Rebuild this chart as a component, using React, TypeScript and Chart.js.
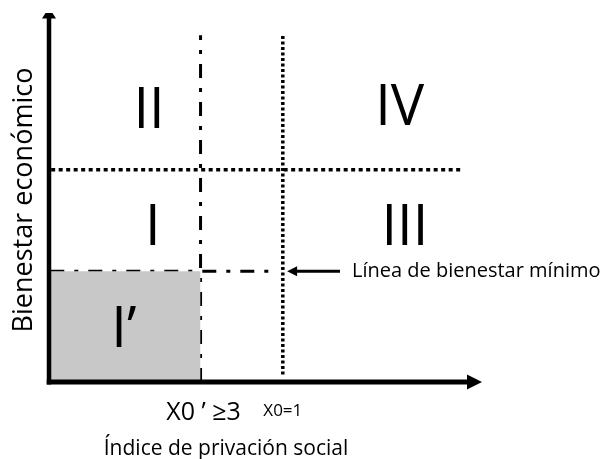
import { useEffect, useRef } from "react";
import { Chart, registerables } from "chart.js";

Chart.register(...registerables);

// Quadrant labels and their centres (data units, 0-100 on both axes)
const quadrantLabels = ["II", "IV", "I", "III", "I’"];
const quadrantX = [23.1, 81, 24, 82.2, 17.3];
const quadrantY = [74.3, 75.1, 42.5, 42.5, 14.9];

// Thresholds
const xThresholdLabels = ["X0 ’ ≥3", "X0=1"];
const xThresholds = [35, 54]; // X0' (dash-dot) and X0 (dotted)
const yThresholdUpper = 57.5; // dotted horizontal
const yMinWelfare = 30; // dash-dot horizontal (línea de bienestar mínimo)
const lineTop = 94;
const upperLineEnd = 95;
const minLineEnd = 51;
const arrowFrom = 67.2;
const arrowTo = 55;

const xTitle = "Índice de privación social";
const yTitle = "Bienestar económico";
const minLineLabel = "Línea de bienestar mínimo";

const FONT = "'Open Sans', 'DejaVu Sans', sans-serif";

export default function App() {
  const ref = useRef<HTMLCanvasElement | null>(null);

  useEffect(() => {
    if (!ref.current) return;
    document.body.style.margin = "0";

    const overlay = {
      id: "overlay",
      afterDatasetsDraw(chart: any) {
        const { ctx, chartArea } = chart;
        const xs = chart.scales.x;
        const ys = chart.scales.y;
        const px = (v: number) => xs.getPixelForValue(v);
        const py = (v: number) => ys.getPixelForValue(v);
        ctx.save();
        ctx.fillStyle = "#000";
        ctx.strokeStyle = "#000";
        ctx.setLineDash([]);

        // y axis
        const ax = chartArea.left;
        const ay = chartArea.bottom;
        ctx.lineWidth = 4.5;
        ctx.beginPath();
        ctx.moveTo(ax, ay + 2.5);
        ctx.lineTo(ax, chartArea.top + 5);
        ctx.stroke();
        ctx.beginPath();
        ctx.moveTo(ax - 7, chartArea.top + 5.5);
        ctx.lineTo(ax + 7, chartArea.top + 5.5);
        ctx.lineTo(ax + 3.5, chartArea.top);
        ctx.lineTo(ax - 3.5, chartArea.top);
        ctx.closePath();
        ctx.fill();

        // x axis
        ctx.lineWidth = 5;
        ctx.beginPath();
        ctx.moveTo(ax - 2.25, ay);
        ctx.lineTo(chartArea.right - 14, ay);
        ctx.stroke();
        ctx.beginPath();
        ctx.moveTo(chartArea.right - 15, ay - 7.5);
        ctx.lineTo(chartArea.right, ay);
        ctx.lineTo(chartArea.right - 15, ay + 7.5);
        ctx.closePath();
        ctx.fill();

        // pointer arrow to the minimum-welfare line
        const tipX = px(arrowTo);
        const arY = py(yMinWelfare);
        ctx.lineWidth = 3;
        ctx.beginPath();
        ctx.moveTo(px(arrowFrom), arY);
        ctx.lineTo(tipX + 8, arY);
        ctx.stroke();
        ctx.beginPath();
        ctx.moveTo(tipX, arY);
        ctx.lineTo(tipX + 10, arY - 5);
        ctx.lineTo(tipX + 10, arY + 5);
        ctx.closePath();
        ctx.fill();

        // quadrant numerals
        ctx.font = `56px ${FONT}`;
        ctx.textAlign = "center";
        ctx.textBaseline = "alphabetic";
        quadrantLabels.forEach((t, i) => {
          ctx.fillText(t, px(quadrantX[i]), py(quadrantY[i]) + 20);
        });

        // minimum line label
        ctx.font = `20px ${FONT}`;
        ctx.textAlign = "left";
        ctx.fillText(minLineLabel, px(arrowFrom) + 12, arY + 6);

        // threshold labels under x axis
        ctx.textAlign = "center";
        ctx.font = `25px ${FONT}`;
        ctx.fillText(xThresholdLabels[0], px(xThresholds[0]) + 3, ay + 38);
        ctx.font = `17px ${FONT}`;
        ctx.fillText(xThresholdLabels[1], px(xThresholds[1]), ay + 34);

        // axis titles
        ctx.font = `21px ${FONT}`;
        ctx.fillText(xTitle, 226, ay + 73);

        ctx.save();
        ctx.translate(32, 200);
        ctx.rotate(-Math.PI / 2);
        ctx.font = `27px ${FONT}`;
        ctx.textAlign = "center";
        ctx.fillText(yTitle, 0, 0);
        ctx.restore();

        ctx.restore();
      },
    };

    const seg = (x1: number, y1: number, x2: number, y2: number) => [
      { x: x1, y: y1 },
      { x: x2, y: y2 },
    ];

    const chart = new Chart(ref.current, {
      type: "scatter",
      data: {
        datasets: [
          {
            data: seg(0, yMinWelfare, xThresholds[0], yMinWelfare),
            showLine: true,
            borderWidth: 0,
            borderColor: "rgba(0,0,0,0)",
            backgroundColor: "#c8c8c8",
            fill: "origin",
            pointRadius: 0,
          },
          {
            data: seg(xThresholds[0], 0, xThresholds[0], lineTop),
            showLine: true,
            borderColor: "#000",
            borderWidth: 3,
            borderDash: [14, 10, 4, 10],
            pointRadius: 0,
          },
          {
            data: seg(xThresholds[1], 2, xThresholds[1], lineTop),
            showLine: true,
            borderColor: "#000",
            borderWidth: 3.5,
            borderDash: [3, 2.5],
            pointRadius: 0,
          },
          {
            data: seg(0.5, yThresholdUpper, upperLineEnd, yThresholdUpper),
            showLine: true,
            borderColor: "#000",
            borderWidth: 3.5,
            borderDash: [4, 3.5],
            pointRadius: 0,
          },
          {
            data: seg(0.3, yMinWelfare, minLineEnd, yMinWelfare),
            showLine: true,
            borderColor: "#000",
            borderWidth: 3,
            borderDash: [14, 10, 4, 10],
            pointRadius: 0,
          },
        ],
      },
      options: {
        responsive: false,
        animation: false,
        layout: { padding: { left: 49, right: 121, top: 13, bottom: 77 } },
        plugins: {
          legend: { display: false },
          tooltip: { enabled: false },
          title: { display: false },
        },
        scales: {
          x: { type: "linear", min: 0, max: 100, display: false },
          y: { type: "linear", min: 0, max: 100, display: false },
        },
      },
      plugins: [overlay],
    });

    return () => chart.destroy();
  }, []);

  return (
    <div style={{ position: "absolute", left: 0, top: 0, width: 603, height: 459, background: "#fff" }}>
      <canvas ref={ref} width={603} height={459} />
    </div>
  );
}
